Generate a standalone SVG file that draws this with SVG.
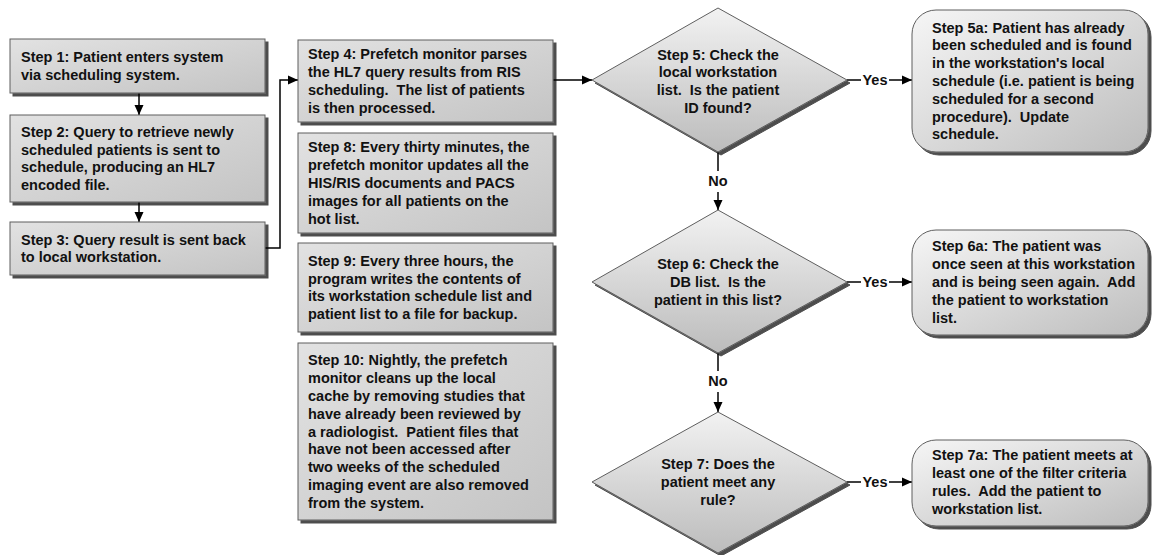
<svg xmlns="http://www.w3.org/2000/svg" width="1152" height="555" viewBox="0 0 1152 555">
<defs>
<style>
.t{font-family:"Liberation Sans",Arial,sans-serif;font-weight:bold;font-size:14.5px;fill:#111;white-space:pre}
.c{text-anchor:middle}
.box{fill:url(#gRect);stroke:#5e5e5e;stroke-width:1;filter:url(#sh)}
.dia{fill:url(#gDia);stroke:#5e5e5e;stroke-width:1;filter:url(#sh)}
.rnd{fill:url(#gRnd);stroke:#5e5e5e;stroke-width:1;filter:url(#sh)}
.ln{fill:none;stroke:#000;stroke-width:1.5}
</style>
<linearGradient id="gRect" x1="0" y1="0" x2="1" y2="1">
<stop offset="0" stop-color="#e2e2e2"/><stop offset="1" stop-color="#c4c4c4"/>
</linearGradient>
<linearGradient id="gDia" x1="0" y1="0" x2="0" y2="1">
<stop offset="0" stop-color="#f2f2f2"/><stop offset="1" stop-color="#bcbcbc"/>
</linearGradient>
<linearGradient id="gRnd" x1="0" y1="0" x2="1" y2="1">
<stop offset="0" stop-color="#f6f6f6"/><stop offset="1" stop-color="#bdbdbd"/>
</linearGradient>
<filter id="sh" x="-5%" y="-5%" width="115%" height="115%">
<feGaussianBlur in="SourceAlpha" stdDeviation="0.5"/>
<feOffset dx="3" dy="3" result="o"/>
<feComponentTransfer><feFuncA type="linear" slope="0.7"/></feComponentTransfer>
<feMerge><feMergeNode/><feMergeNode in="SourceGraphic"/></feMerge>
</filter>
<marker id="ar" markerUnits="userSpaceOnUse" markerWidth="10" markerHeight="10" viewBox="0 0 10 10" refX="10" refY="5" orient="auto">
<path d="M0,0.5 L10,5 L0,9.5 z" fill="#000"/>
</marker>
</defs>

<g id="connectors">
<line class="ln" x1="139" y1="93" x2="139" y2="115" marker-end="url(#ar)"/>
<line class="ln" x1="139" y1="202" x2="139" y2="222" marker-end="url(#ar)"/>
<polyline class="ln" points="265,248 280,248 280,80 298,80" marker-end="url(#ar)"/>
<line class="ln" x1="553" y1="80" x2="592" y2="80" marker-end="url(#ar)"/>
<line class="ln" x1="847" y1="80" x2="861" y2="80"/>
<text class="t c" x="875" y="85">Yes</text>
<line class="ln" x1="889" y1="80" x2="912" y2="80" marker-end="url(#ar)"/>
<line class="ln" x1="718" y1="152" x2="718" y2="171"/>
<text class="t c" x="718" y="186">No</text>
<line class="ln" x1="718" y1="192" x2="718" y2="210" marker-end="url(#ar)"/>
<line class="ln" x1="847" y1="282" x2="861" y2="282"/>
<text class="t c" x="875" y="287">Yes</text>
<line class="ln" x1="889" y1="282" x2="912" y2="282" marker-end="url(#ar)"/>
<line class="ln" x1="718" y1="353" x2="718" y2="371"/>
<text class="t c" x="718" y="386">No</text>
<line class="ln" x1="718" y1="392" x2="718" y2="412" marker-end="url(#ar)"/>
<line class="ln" x1="847" y1="482" x2="861" y2="482"/>
<text class="t c" x="875" y="487">Yes</text>
<line class="ln" x1="889" y1="482" x2="912" y2="482" marker-end="url(#ar)"/>
</g>

<g id="step1">
<rect class="box" x="10" y="39" width="255" height="54"/>
<text class="t" x="21"><tspan y="62">Step 1: Patient enters system</tspan><tspan x="21" y="80">via scheduling system.</tspan></text>
</g>
<g id="step2">
<rect class="box" x="10" y="115" width="255" height="87"/>
<text class="t" x="21"><tspan y="137">Step 2: Query to retrieve newly</tspan><tspan x="21" y="155">scheduled patients is sent to</tspan><tspan x="21" y="172">schedule, producing an HL7</tspan><tspan x="21" y="190">encoded file.</tspan></text>
</g>
<g id="step3">
<rect class="box" x="10" y="222" width="255" height="53"/>
<text class="t" x="21"><tspan y="245">Step 3: Query result is sent back</tspan><tspan x="21" y="262">to local workstation.</tspan></text>
</g>

<g id="step4">
<rect class="box" x="298" y="40" width="255" height="82"/>
<text class="t" x="308"><tspan y="59">Step 4: Prefetch monitor parses</tspan><tspan x="308" y="77">the HL7 query results from RIS</tspan><tspan x="308" y="95">scheduling.  The list of patients</tspan><tspan x="308" y="113">is then processed.</tspan></text>
</g>
<g id="step8">
<rect class="box" x="298" y="133" width="255" height="100"/>
<text class="t" x="308"><tspan y="152">Step 8: Every thirty minutes, the</tspan><tspan x="308" y="170">prefetch monitor updates all the</tspan><tspan x="308" y="188">HIS/RIS documents and PACS</tspan><tspan x="308" y="206">images for all patients on the</tspan><tspan x="308" y="224">hot list.</tspan></text>
</g>
<g id="step9">
<rect class="box" x="298" y="243" width="255" height="89"/>
<text class="t" x="308"><tspan y="266">Step 9: Every three hours, the</tspan><tspan x="308" y="284">program writes the contents of</tspan><tspan x="308" y="301">its workstation schedule list and</tspan><tspan x="308" y="319">patient list to a file for backup.</tspan></text>
</g>
<g id="step10">
<rect class="box" x="298" y="343" width="255" height="177"/>
<text class="t" x="308"><tspan y="365">Step 10: Nightly, the prefetch</tspan><tspan x="308" y="383">monitor cleans up the local</tspan><tspan x="308" y="401">cache by removing studies that</tspan><tspan x="308" y="419">have already been reviewed by</tspan><tspan x="308" y="437">a radiologist.  Patient files that</tspan><tspan x="308" y="454">have not been accessed after</tspan><tspan x="308" y="472">two weeks of the scheduled</tspan><tspan x="308" y="490">imaging event are also removed</tspan><tspan x="308" y="508">from the system.</tspan></text>
</g>

<g id="step5">
<polygon class="dia" points="718,8 847,80 718,152 592,80"/>
<text class="t c" x="718"><tspan y="60">Step 5: Check the</tspan><tspan x="718" y="77">local workstation</tspan><tspan x="718" y="95">list.  Is the patient</tspan><tspan x="718" y="113">ID found?</tspan></text>
</g>
<g id="step6">
<polygon class="dia" points="718,210 847,282 718,353 592,282"/>
<text class="t c" x="718"><tspan y="269">Step 6: Check the</tspan><tspan x="718" y="287">DB list.  Is the</tspan><tspan x="718" y="305">patient in this list?</tspan></text>
</g>
<g id="step7">
<polygon class="dia" points="718,412 847,482 718,553 592,482"/>
<text class="t c" x="718"><tspan y="469">Step 7: Does the</tspan><tspan x="718" y="487">patient meet any</tspan><tspan x="718" y="505">rule?</tspan></text>
</g>

<g id="step5a">
<rect class="rnd" x="912" y="10" width="236" height="142" rx="24" ry="24"/>
<text class="t" x="932"><tspan y="33">Step 5a: Patient has already</tspan><tspan x="932" y="50">been scheduled and is found</tspan><tspan x="932" y="68">in the workstation's local</tspan><tspan x="932" y="86">schedule (i.e. patient is being</tspan><tspan x="932" y="104">scheduled for a second</tspan><tspan x="932" y="122">procedure).  Update</tspan><tspan x="932" y="139">schedule.</tspan></text>
</g>
<g id="step6a">
<rect class="rnd" x="912" y="230" width="236" height="105" rx="24" ry="24"/>
<text class="t" x="932"><tspan y="251">Step 6a: The patient was</tspan><tspan x="932" y="269">once seen at this workstation</tspan><tspan x="932" y="287">and is being seen again.  Add</tspan><tspan x="932" y="305">the patient to workstation</tspan><tspan x="932" y="323">list.</tspan></text>
</g>
<g id="step7a">
<rect class="rnd" x="912" y="440" width="236" height="86" rx="24" ry="24"/>
<text class="t" x="932"><tspan y="460">Step 7a: The patient meets at</tspan><tspan x="932" y="478">least one of the filter criteria</tspan><tspan x="932" y="496">rules.  Add the patient to</tspan><tspan x="932" y="514">workstation list.</tspan></text>
</g>
</svg>
